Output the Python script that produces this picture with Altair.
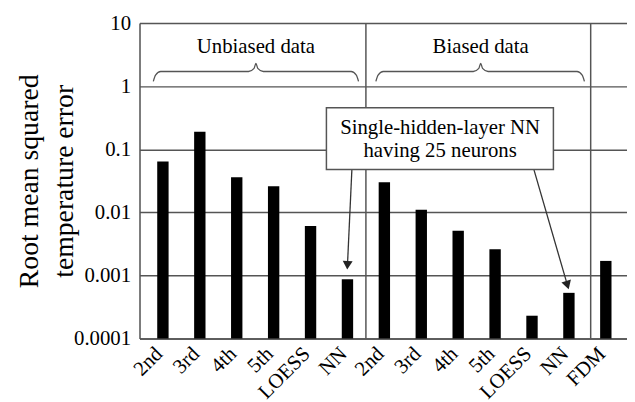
import altair as alt
import pandas as pd

FONT = "Liberation Serif"
GRID = "#555555"

labels = ["2nd", "3rd", "4th", "5th", "LOESS", "NN",
          "2nd", "3rd", "4th", "5th", "LOESS", "NN", "FDM"]
rmse = [0.064, 0.19, 0.036, 0.026, 0.0061, 0.00087,
        0.030, 0.011, 0.0051, 0.0026, 0.00023, 0.00053, 0.0017]
positions = [i + 0.5 for i in range(len(labels))]

y_ticks = [10, 1, 0.1, 0.01, 0.001, 0.0001]
separators = [6, 12.09]

group_names = ["Unbiased data", "Biased data"]
group_start = [0.24, 6.27]
group_end = [5.80, 11.92]
group_mid = [3.02, 9.11]
group_label_y = [4.2, 4.2]

# brace profile values (ends, shoulders, tip)
brace_end_y = [1.19, 1.50, 1.71]
brace_mid_y = [1.71, 1.92, 2.3]

note_lines = ["Single-hidden-layer NN", "having 25 neurons"]
note_line_y = [0.22, 0.092]
note_x = 8.01
note_box = dict(x=4.93, x2=11.08, y=0.454, y2=0.0479)

arrow_from_x = [5.62, 10.55]
arrow_from_y = [0.0479, 0.0479]
arrow_to_x = [5.50, 11.46]
arrow_to_y = [0.00145, 0.000702]
arrow_angle = [3, 343]

bars = pd.DataFrame({"pos": positions, "label": labels, "rmse": rmse})

brace_rows = []
for g, x0, x1, xm in zip(group_names, group_start, group_end, group_mid):
    pts = [
        (x0, brace_end_y[0]), (x0 + 0.06, brace_end_y[1]), (x0 + 0.2, brace_end_y[2]),
        (xm - 0.2, brace_mid_y[0]), (xm - 0.05, brace_mid_y[1]), (xm, brace_mid_y[2]),
        (xm + 0.05, brace_mid_y[1]), (xm + 0.2, brace_mid_y[0]),
        (x1 - 0.2, brace_end_y[2]), (x1 - 0.06, brace_end_y[1]), (x1, brace_end_y[0]),
    ]
    for k, (px, py) in enumerate(pts):
        brace_rows.append({"g": g, "k": k, "x": px, "y": py})
braces = pd.DataFrame(brace_rows)

group_text = pd.DataFrame({"x": group_mid, "y": group_label_y, "t": group_names})
sep_df = pd.DataFrame({"x": separators, "y": [0.0001] * 2, "y2": [10] * 2})
box_df = pd.DataFrame([note_box])
note_df = pd.DataFrame({"x": [note_x] * 2, "y": note_line_y, "t": note_lines})
arrow_df = pd.DataFrame({"x": arrow_from_x, "y": arrow_from_y,
                         "x2": arrow_to_x, "y2": arrow_to_y, "a": arrow_angle})

label_expr = "[" + ",".join("'%s'" % l for l in labels) + "][floor(datum.value)]"

xscale = alt.Scale(domain=[0, 12.94], nice=False, zero=False)
yscale = alt.Scale(type="log", domain=[0.0001, 10], nice=False)

xaxis = alt.Axis(values=positions, labelExpr=label_expr, labelAngle=-45,
                 labelAlign="right", labelBaseline="middle",
                 labelFont=FONT, labelFontSize=21, labelColor="black",
                 labelPadding=12, labelOffset=-4, ticks=False, grid=False,
                 domainColor=GRID, domainWidth=1.5, title=None,
                 labelOverlap=False, labelBound=False)
yaxis = alt.Axis(values=y_ticks, format="~g", labelFont=FONT, labelFontSize=21,
                 labelColor="black", labelPadding=9, ticks=False,
                 gridColor=GRID, gridWidth=1.5, gridOpacity=1,
                 domainColor=GRID, domainWidth=1.5,
                 title=["Root mean squared", "temperature  error"],
                 titleFont=FONT, titleFontSize=28, titleFontWeight="normal",
                 titleColor="black", titleLineHeight=35,
                 titleX=-97, titleY=159.5)

base_bars = alt.Chart(bars).mark_bar(size=11.5, color="black").encode(
    x=alt.X("pos:Q", scale=xscale, axis=xaxis),
    y=alt.Y("rmse:Q", scale=yscale, axis=yaxis),
    y2=alt.datum(0.0001),
)

seps = alt.Chart(sep_df).mark_rule(color=GRID, strokeWidth=1.5).encode(
    x="x:Q", y="y:Q", y2="y2:Q")

brace_layer = alt.Chart(braces).mark_line(color=GRID, strokeWidth=1.3,
                                          interpolate="monotone").encode(
    x="x:Q", y="y:Q", detail="g:N", order="k:Q")

group_txt = alt.Chart(group_text).mark_text(font=FONT, fontSize=21, color="black").encode(
    x="x:Q", y="y:Q", text="t:N")

box = alt.Chart(box_df).mark_rect(fill="white", stroke=GRID, strokeWidth=1.5).encode(
    x="x:Q", x2="x2:Q", y="y:Q", y2="y2:Q")

note_txt = alt.Chart(note_df).mark_text(font=FONT, fontSize=21, color="black").encode(
    x="x:Q", y="y:Q", text="t:N")

arrows = alt.Chart(arrow_df).mark_rule(color="#333333", strokeWidth=1.3).encode(
    x="x:Q", y="y:Q", x2="x2:Q", y2="y2:Q")

heads = alt.Chart(arrow_df).mark_point(shape="triangle-down", filled=True,
                                       color="#222222", opacity=1, size=100).encode(
    x="x2:Q", y="y2:Q", angle=alt.Angle("a:Q", scale=None))

chart = alt.layer(base_bars, seps, brace_layer, group_txt, arrows, heads, box, note_txt).properties(
    width=493, height=319,
    autosize=alt.AutoSizeParams(type="none"),
    padding={"left": 133, "top": 13, "right": 0, "bottom": 70},
).configure_view(stroke=None).configure(background="white")

chart.save("out.html", embed_options={"renderer": "svg", "actions": False})
